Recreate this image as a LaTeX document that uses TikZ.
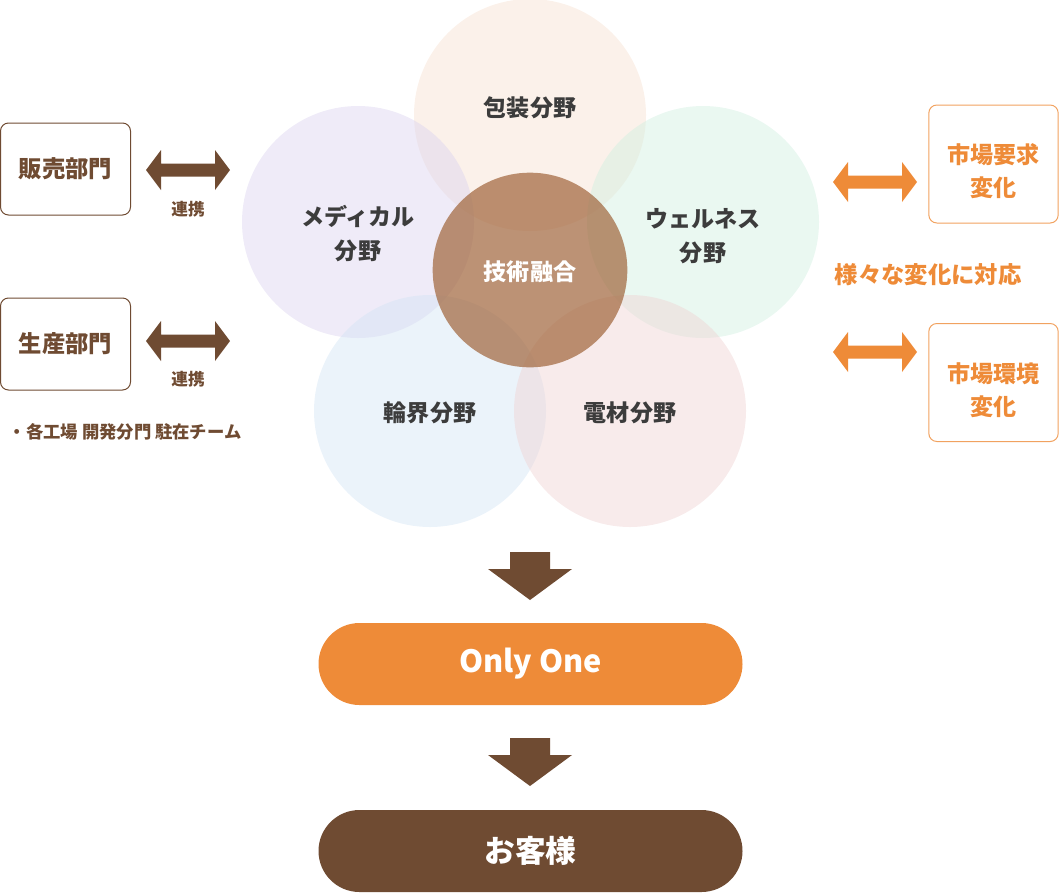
\documentclass[tikz,border=0pt]{standalone}
\usepackage{fontspec}
\setmainfont{Noto Sans CJK JP}
\usepackage{tikz}

\definecolor{brownc}{HTML}{6F4B32}
\definecolor{orangec}{HTML}{EE8B38}
\definecolor{textgray}{HTML}{3C3C3C}
\definecolor{peach}{HTML}{F6E0D0}
\definecolor{lavender}{HTML}{DBD3EF}
\definecolor{mint}{HTML}{D0EFE0}
\definecolor{skyblue}{HTML}{D3E4F4}
\definecolor{rose}{HTML}{EFD3D3}
\definecolor{coreb}{HTML}{A0643A}

% double block arrow, centre (x,y)
\newcommand{\dblarrow}[3]{%
  \fill[#3] (#1,#2) ++(-42,0) -- ++(15,-20) -- ++(0,13.5) -- ++(54,0)
    -- ++(0,-13.5) -- ++(15,20) -- ++(-15,20) -- ++(0,-13.5) -- ++(-54,0)
    -- ++(0,13.5) -- cycle;}
% down block arrow, top centre (x,y)
\newcommand{\downblock}[2]{%
  \fill[brownc] (#1,#2) ++(-20,0) -- ++(40,0) -- ++(0,17) -- ++(22,0)
    -- ++(-42,31) -- ++(-42,-31) -- ++(22,0) -- cycle;}

\tikzset{
  field/.style={circle, minimum size=174pt, inner sep=0pt, fill opacity=0.45},
  fieldtext/.style={font=\fontsize{17.3}{25.5}\selectfont\bfseries, text=textgray, align=center},
  deptbox/.style={draw=brownc, line width=0.75pt, rounded corners=6pt,
    minimum width=97.5pt, minimum height=69pt, text=brownc,
    font=\fontsize{17.5}{25}\selectfont\bfseries},
  marketbox/.style={draw=orangec!80, line width=0.75pt, rounded corners=6pt,
    minimum width=97pt, minimum height=88.5pt},
  markettext/.style={text=orangec, align=center, font=\fontsize{17.3}{25}\selectfont\bfseries},
  pill/.style={rounded corners=30.75pt, minimum width=318pt, minimum height=61.5pt,
    text=white, font=\fontsize{23}{28}\selectfont\bfseries},
  small/.style={font=\fontsize{12.5}{15}\selectfont\bfseries, text=brownc}
}

\begin{document}
\begin{tikzpicture}[x=0.75pt,y=-0.75pt]
  \useasboundingbox (0,0) rectangle (1059,893);

  % five fields
  \node[field, fill=peach] (package) at (530,115) {};
  \node[field, fill=lavender] (medical) at (358,222) {};
  \node[field, fill=mint] (wellness) at (703,222) {};
  \node[field, fill=skyblue] (wheel) at (430,411) {};
  \node[field, fill=rose] (material) at (630,411) {};
  \node[circle, minimum size=146pt, inner sep=0pt, fill=coreb, fill opacity=0.7] (core) at (530,270) {};

  \node[fieldtext] (packagelbl) at (530,108) {包装分野};
  \node[fieldtext] (medicallbl) at (358,234) {メディカル\\分野};
  \node[fieldtext] (wellnesslbl) at (703,236) {ウェルネス\\分野};
  \node[fieldtext] (wheellbl) at (430,413) {輪界分野};
  \node[fieldtext] (materiallbl) at (630,413) {電材分野};
  \node[fieldtext, text=white] (corelbl) at (530,272) {技術融合};

  % left side
  \node[deptbox] (sales) at (65.5,169) {販売部門};
  \node[deptbox] (production) at (65.5,344) {生産部門};
  \dblarrow{188}{170}{brownc}
  \dblarrow{188}{341}{brownc}
  \node[small] (link1) at (188,209) {連携};
  \node[small] (link2) at (188,379) {連携};
  \node[small, anchor=west, font=\fontsize{13}{15}\selectfont\bfseries] (teams) at (4,432) {・各工場 開発分門 駐在チーム};

  % right side
  \node[marketbox] (demand) at (993.5,164) {};
  \node[marketbox] (environment) at (993.5,382.5) {};
  \node[markettext] (demandlbl) at (993.5,171) {市場要求\\変化};
  \node[markettext] (environmentlbl) at (993.5,390) {市場環境\\変化};
  \dblarrow{875}{182}{orangec}
  \dblarrow{875}{352}{orangec}
  \node[text=orangec, font=\fontsize{17.5}{20}\selectfont\bfseries] (adapt) at (928,275) {様々な変化に対応};

  % result
  \downblock{530}{552}
  \node[pill, fill=orangec] (onlyone) at (530.5,664) {Only One};
  \downblock{530}{738}
  \node[pill, fill=brownc] (customer) at (530.5,851) {お客様};
\end{tikzpicture}
\end{document}
